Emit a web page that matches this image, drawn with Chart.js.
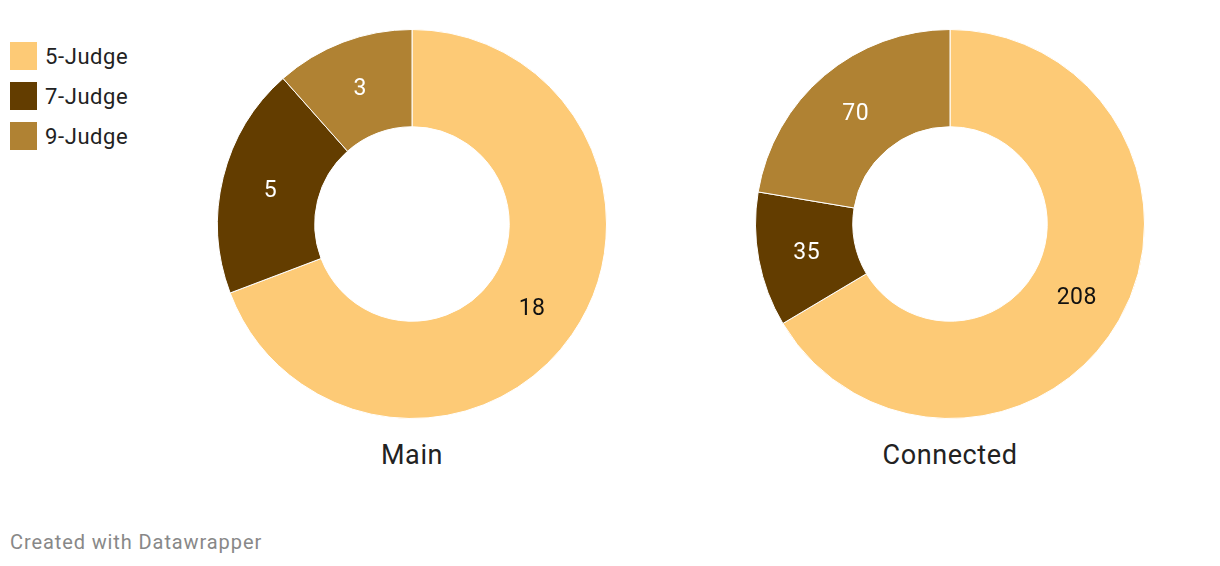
<!DOCTYPE html>
<html>
<head>
<meta charset="utf-8">
<script src="https://cdn.jsdelivr.net/npm/chart.js@4/dist/chart.umd.min.js"></script>
<style>
  body { margin: 0; background: #fff; font-family: Roboto, sans-serif; }
  #wrap { position: relative; width: 1220px; height: 566px; }
  .pie { position: absolute; width: 390px; height: 390px; }
  .title { position: absolute; top: 439px; width: 300px; text-align: center; font-size: 27px; letter-spacing: 0.6px; color: #222; }
  #legend { position: absolute; left: 10px; top: 42px; }
  .item { display: flex; align-items: center; height: 28px; margin-bottom: 12px; font-size: 22px; letter-spacing: 0.6px; color: #222; }
  .swatch { width: 27px; height: 28px; margin-right: 8px; }
  #footer { position: absolute; left: 10px; top: 530px; font-size: 20px; letter-spacing: 0.9px; color: #888; }
</style>
</head>
<body>
<div id="wrap">
  <div id="legend"></div>
  <div class="pie" style="left:217px; top:29px;"><canvas id="mainChart"></canvas></div>
  <div class="pie" style="left:755px; top:29px;"><canvas id="connChart"></canvas></div>
  <div class="title" style="left:262px;">Main</div>
  <div class="title" style="left:800px;">Connected</div>
  <div id="footer">Created with Datawrapper</div>
</div>
<script>
const categories = ['5-Judge', '7-Judge', '9-Judge']
const mainValues = [18, 5, 3]
const connectedValues = [208, 35, 70]
const colors = ['#fdca76', '#633d00', '#b08233']
const labelColors = ['#111', '#fff', '#fff']

const legend = document.getElementById('legend')
categories.forEach((cat, i) => {
  const row = document.createElement('div')
  row.className = 'item'
  row.innerHTML = `<span class="swatch" style="background:${colors[i]}"></span>${cat}`
  legend.appendChild(row)
})

// draws the value in the middle of each slice
const sliceLabels = {
  id: 'sliceLabels',
  afterDatasetsDraw(chart) {
    const ctx = chart.ctx
    const meta = chart.getDatasetMeta(0)
    ctx.save()
    ctx.font = '23px Roboto'
    ctx.letterSpacing = '0.5px'
    ctx.textAlign = 'center'
    ctx.textBaseline = 'middle'
    meta.data.forEach((arc, i) => {
      const pos = arc.tooltipPosition()
      ctx.fillStyle = labelColors[i]
      ctx.fillText(chart.data.datasets[0].data[i], pos.x, pos.y + 2)
    })
    ctx.restore()
  }
}

function makeDonut(id, values) {
  new Chart(document.getElementById(id), {
    type: 'doughnut',
    data: {
      labels: categories,
      datasets: [{
        data: values,
        backgroundColor: colors,
        borderColor: '#fff',
        borderWidth: 1,
        hoverOffset: 0
      }]
    },
    options: {
      responsive: true,
      maintainAspectRatio: false,
      animation: false,
      cutout: '50%',
      plugins: {
        legend: { display: false },
        tooltip: { enabled: false }
      }
    },
    plugins: [sliceLabels]
  })
}

makeDonut('mainChart', mainValues)
makeDonut('connChart', connectedValues)
</script>
</body>
</html>
